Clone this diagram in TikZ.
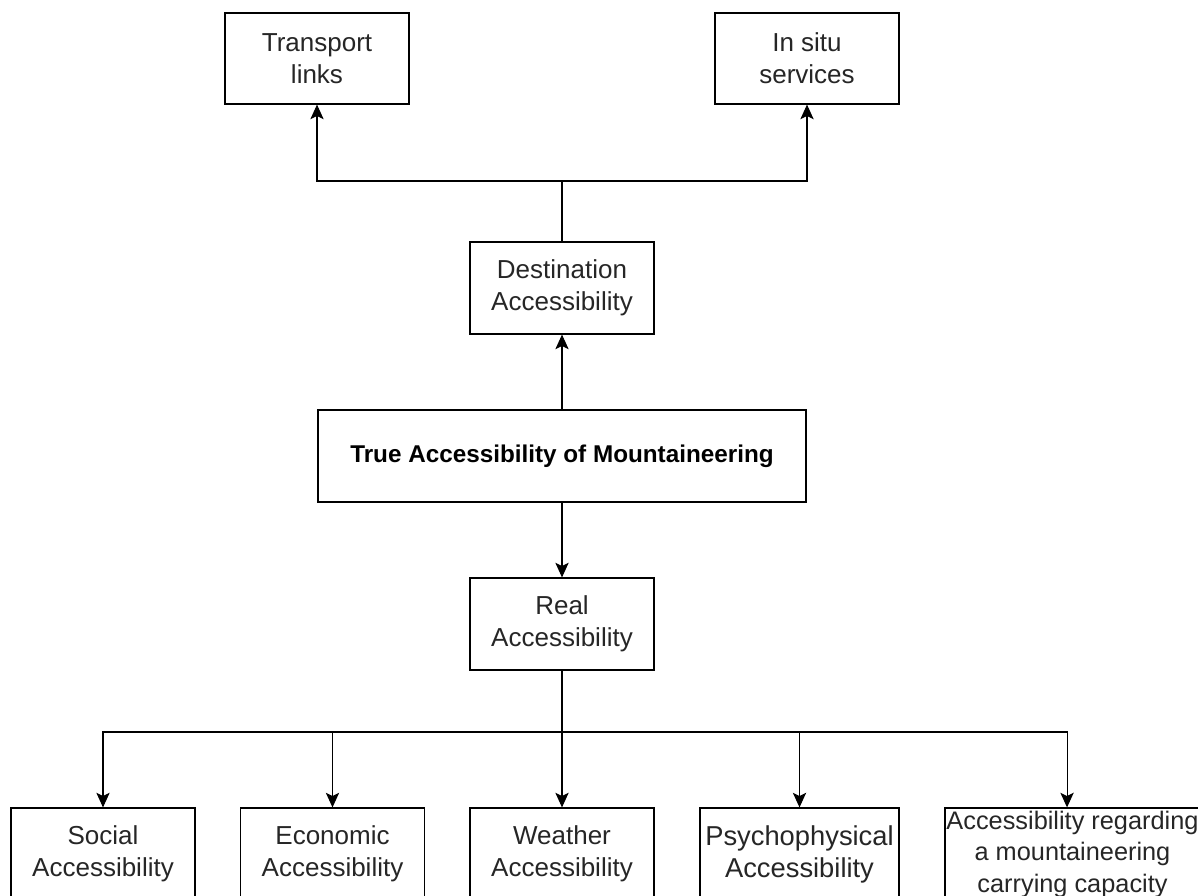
\documentclass[tikz,border=0pt]{standalone}
\usepackage{fontspec}
\setmainfont{Liberation Sans}
\usetikzlibrary{arrows.meta}

\begin{document}
\begin{tikzpicture}[x = 0.75pt, y = -0.75pt,
        box/.style = {draw, line width = 0.9pt, minimum width = 138pt, minimum height = 69pt, inner sep = 1pt, align = center, text = black!85, font = \fontsize{19.5}{23.8}\selectfont},
        arr/.style = {-{Stealth[length = 11pt, width = 10pt, inset = 2.5pt]}, line width = 0.8pt}]
        \useasboundingbox (0,0) rectangle (1198,895);
        \clip (0,0) rectangle (1198,895);

        % top row
        \node[box, minimum height = 68.25pt] (trans) at (317, 58.5) {Transport\\links};
        \node[box, minimum height = 68.25pt] (situ) at (807, 58.5) {In situ\\services};

        \node[box] (dest) at (562, 288) {Destination\\Accessibility};
        \node[box, minimum width = 366pt, text = black, font = \bfseries\fontsize{18.2}{22}\selectfont] (true) at (562, 456) {True Accessibility of Mountaineering};
        \node[box] (real) at (562, 624) {Real\\Accessibility};

        % bottom row (cut by the frame)
        \node[box] (social) at (103, 854) {Social\\Accessibility};
        \node[box] (econ) at (332.5, 854) {Economic\\Accessibility};
        \node[box] (weather) at (562, 854) {Weather\\Accessibility};
        \node[box, minimum width = 149.25pt, font = \fontsize{20.5}{24}\selectfont] (psycho) at (799.5, 854) {Psychophysical\\Accessibility};
        \node[box, minimum width = 191.25pt, font = \fontsize{19}{23.6}\selectfont] (capacity) at (1072.5, 854) {Accessibility regarding\\a mountaineering\\carrying capacity};

        \coordinate (topfork) at (dest.north |- 0,181);
        \coordinate (lowfork) at (real.south |- 0,732);

        \draw[line width = 0.8pt] (dest.north) -- (topfork);
        \draw[arr] (topfork) -| (trans.south);
        \draw[arr] (topfork) -| (situ.south);
        \draw[arr] (true.north) -- (dest.south);
        \draw[arr] (true.south) -- (real.north);
        \draw[arr] (real.south) -- (weather.north);
        \draw[arr] (lowfork) -| (social.north);
        \draw[arr] (lowfork) -| (econ.north);
        \draw[arr] (lowfork) -| (psycho.north);
        %\draw[arr] (lowfork) -| (capacity.north);
        \draw[arr] (lowfork) -| ([xshift = -4.1pt]capacity.north);
    \end{tikzpicture}
\end{document}
